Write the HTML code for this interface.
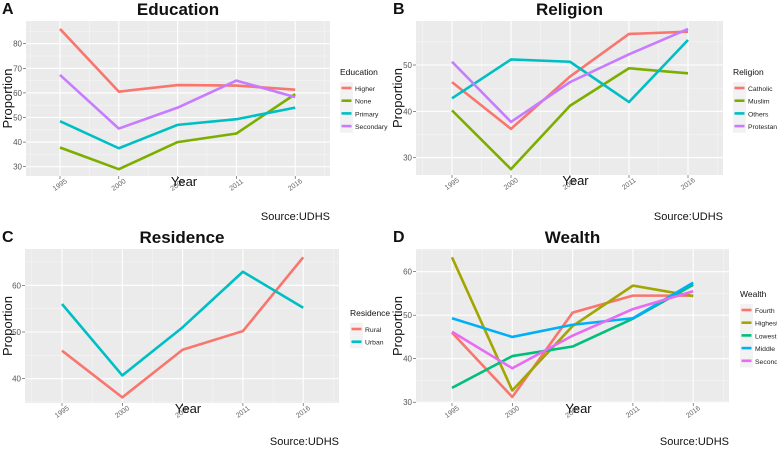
<!DOCTYPE html>
<html><head><meta charset="utf-8"><style>
body{margin:0;background:#fff;}
svg{display:block;font-family:"Liberation Sans",sans-serif;}
</style></head><body>
<svg id="fig" width="777" height="450"></svg>
<script>
const years=["1995","2000","2006","2011","2016"];
const eduNames=["Higher","None","Primary","Secondary"];
const eduHigher=[86,60.5,63.2,63,61.3];
const eduNone=[37.8,29,40,43.5,59.5];
const eduPrimary=[48.5,37.5,47,49.3,54];
const eduSecondary=[67.3,45.5,54,65,58.3];
const relNames=["Catholic","Muslim","Others","Protestant"];
const relCatholic=[46.3,36.2,47.5,56.7,57.2];
const relMuslim=[40.2,27.5,41.2,49.3,48.2];
const relOthers=[42.8,51.2,50.7,42,55.4];
const relProtestant=[50.7,37.7,46.3,52.3,57.8];
const resNames=["Rural","Urban"];
const resRural=[46,36,46.2,50.2,66];
const resUrban=[56,40.7,51,62.9,55.2];
const wNames=["Fourth","Highest","Lowest","Middle","Second"];
const wFourth=[46,31.2,50.6,54.5,54.5];
const wHighest=[63.3,32.7,47.5,56.8,54.4];
const wLowest=[33.3,40.6,42.8,49.2,57];
const wMiddle=[49.3,45,47.8,49.3,57.5];
const wSecond=[46.2,37.8,45.3,51.4,55.5];
const yTicksA=[30,40,50,60,70,80];
const yTicksB=[30,40,50];
const yTicksC=[40,50,60];
const yTicksD=[30,40,50,60];

const NS="http://www.w3.org/2000/svg";
const svg=document.getElementById('fig');
function mk(tag,attrs,parent,text){const e=document.createElementNS(NS,tag);for(const k in attrs)e.setAttribute(k,attrs[k]);if(text!==undefined)e.textContent=text;(parent||svg).appendChild(e);return e;}

function panel(p){
  const g=mk('g',{});
  
  
  const bg=mk('rect',{x:p.x0,y:p.y0,width:p.x1-p.x0,height:p.y1-p.y0,fill:'#ebebeb'},g);
  
  
  const sx=i=>p.xa+i*p.xs;
  const sy=v=>p.yRef-(v-p.vRef)*p.ppu;
  const step=p.yTicks[1]-p.yTicks[0];
  for(let v=p.yTicks[0]-step*1.5;v<=p.yTicks[p.yTicks.length-1]+step*1.5;v+=step){const y=sy(v);if(y>p.y0&&y<p.y1)mk('line',{x1:p.x0,x2:p.x1,y1:y,y2:y,stroke:'#f5f5f5','stroke-width':0.6},g);}
  for(let i=-0.5;i<=4.5;i+=1){const x=sx(i);if(x>p.x0&&x<p.x1)mk('line',{x1:x,x2:x,y1:p.y0,y2:p.y1,stroke:'#f5f5f5','stroke-width':0.6},g);}
  p.yTicks.forEach(v=>{const y=sy(v);
    mk('line',{x1:p.x0,x2:p.x1,y1:y,y2:y,stroke:'#fff','stroke-width':1.1},g);
    mk('line',{x1:p.x0-3,x2:p.x0,y1:y,y2:y,stroke:'#444','stroke-width':0.6},g);
    const t=mk('text',{x:p.x0-4,y:y+3,'font-size':8,fill:'#555','text-anchor':'end'},g,v);
    
    });
  years.forEach((yr,i)=>{const x=sx(i);
    mk('line',{x1:x,x2:x,y1:p.y0,y2:p.y1,stroke:'#fff','stroke-width':1.1},g);
    mk('line',{x1:x,x2:x,y1:p.y1,y2:p.y1+3,stroke:'#444','stroke-width':0.6},g);
    const t=mk('text',{x:x,y:p.y1+11,'font-size':7,fill:'#666','text-anchor':'middle',transform:`rotate(-35 ${x} ${p.y1+9})`},g,yr);
    
    });
  p.series.forEach((s,k)=>{
    const pts=s.map((v,i)=>sx(i)+','+sy(v)).join(' ');
    const l=mk('polyline',{points:pts,fill:'none',stroke:p.colors[k],'stroke-width':2.6,'stroke-linejoin':'round'},g);
    
    
  });
  const cx=(p.x0+p.x1)/2;
  const ti=mk('text',{x:cx,y:p.y0-6,'font-size':17,'font-weight':'bold','text-anchor':'middle',fill:'#111'},g,p.title);
  
  
  const lt=mk('text',{x:p.tagX,y:p.y0-7,'font-size':16,'font-weight':'bold',fill:'#111'},g,p.tag);
  
  
  const xl=mk('text',{x:cx+6,y:p.y1+10,'font-size':13,'text-anchor':'middle',fill:'#111'},g,'Year');
  
  
  const ym=(p.y0+p.y1)/2;
  const yl=mk('text',{x:p.ylx,y:ym,'font-size':13,'text-anchor':'middle',fill:'#111',transform:`rotate(-90 ${p.ylx} ${ym})`},g,'Proportion');
  
  
  const src=mk('text',{x:p.x1,y:p.srcY,'font-size':11,'text-anchor':'end',fill:'#111'},g,'Source:UDHS');
  
  
  const lg=mk('g',{},g);
  
  
  mk('text',{x:p.lx,y:p.ly,'font-size':8.5,fill:'#111'},lg,p.title);
  p.names.forEach((n,k)=>{const y=p.ly+13+k*12.7;
    mk('rect',{x:p.lx,y:y-6,width:13,height:12.7,fill:'#f2f2f2'},lg);
    mk('line',{x1:p.lx+1.5,x2:p.lx+11.5,y1:y,y2:y,stroke:p.colors[k],'stroke-width':2.6},lg);
    const e=mk('text',{x:p.lx+15,y:y+3,'font-size':6.8,fill:'#222'},lg,n);
    
    });
}
panel({key:'education',title:'Education',tag:'A',tagX:2,x0:26,x1:330,y0:21,y1:176,xa:60,xs:58.8,yRef:43.7,vRef:80,ppu:2.46,yTicks:yTicksA,
  series:[eduHigher,eduNone,eduPrimary,eduSecondary],names:eduNames,colors:['#f8766d','#7cae00','#00bfc4','#c77cff'],lx:340,ly:75,ylx:12,srcY:220});
panel({key:'religion',title:'Religion',tag:'B',tagX:393,x0:416,x1:723,y0:21,y1:175,xa:452,xs:59,yRef:65,vRef:50,ppu:4.63,yTicks:yTicksB,
  series:[relCatholic,relMuslim,relOthers,relProtestant],names:relNames,colors:['#f8766d','#7cae00','#00bfc4','#c77cff'],lx:733,ly:75,ylx:402,srcY:220});
panel({key:'residence',title:'Residence',tag:'C',tagX:2,x0:25,x1:339,y0:249,y1:403,xa:62,xs:60.3,yRef:285.3,vRef:60,ppu:4.67,yTicks:yTicksC,
  series:[resRural,resUrban],names:resNames,colors:['#f8766d','#00bfc4'],lx:350,ly:316,ylx:12,srcY:445});
panel({key:'wealth',title:'Wealth',tag:'D',tagX:393,x0:416,x1:729,y0:249,y1:403,xa:452,xs:60.3,yRef:271.7,vRef:60,ppu:4.35,yTicks:yTicksD,
  series:[wFourth,wHighest,wLowest,wMiddle,wSecond],names:wNames,colors:['#f8766d','#a3a500','#00bf7d','#00b0f6','#e76bf3'],lx:740,ly:297,ylx:402,srcY:445});
</script>
</body></html>
